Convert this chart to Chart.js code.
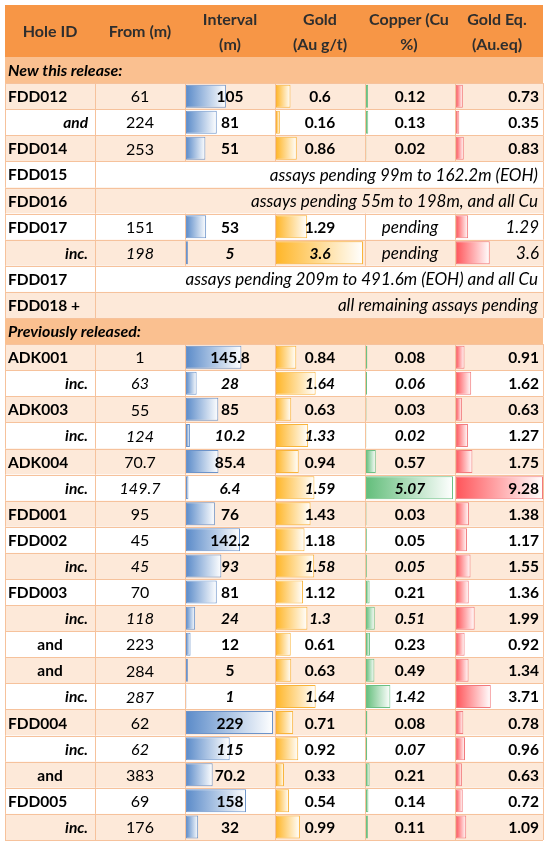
<!DOCTYPE html>
<html>
<head>
<meta charset="utf-8">
<script src="https://cdn.jsdelivr.net/npm/chart.js@4.4.1/dist/chart.umd.min.js"></script>
<style>
  html,body{margin:0;padding:0;background:#fff;}
  #wrap{width:550px;height:848px;position:relative;}
  canvas{display:block;}
</style>
</head>
<body>
<div id="wrap"><canvas id="c" width="550" height="848"></canvas></div>
<script>
// ---------- DATA ----------
const holeIds = ["New this release:","FDD012","and","FDD014","FDD015","FDD016","FDD017","inc.","FDD017","FDD018 +",
  "Previously released:","ADK001","inc.","ADK003","inc.","ADK004","inc.","FDD001","FDD002","inc.",
  "FDD003","inc.","and","and","inc.","FDD004","inc.","and","FDD005","inc."];
const fromM    = [null,61,224,253,null,null,151,198,null,null, null,1,63,55,124,70.7,149.7,95,45,45, 70,118,223,284,287,62,62,383,69,176];
const interval = [null,105,81,51,null,null,53,5,null,null, null,145.8,28,85,10.2,85.4,6.4,76,142.2,93, 81,24,12,5,1,229,115,70.2,158,32];
const gold     = [null,0.6,0.16,0.86,null,null,1.29,3.6,null,null, null,0.84,1.64,0.63,1.33,0.94,1.59,1.43,1.18,1.58, 1.12,1.3,0.61,0.63,1.64,0.71,0.92,0.33,0.54,0.99];
const copper   = [null,0.12,0.13,0.02,null,null,null,null,null,null, null,0.08,0.06,0.03,0.02,0.57,5.07,0.03,0.05,0.05, 0.21,0.51,0.23,0.49,1.42,0.08,0.07,0.21,0.14,0.11];
const goldEq   = [null,0.73,0.35,0.83,null,null,1.29,3.6,null,null, null,0.91,1.62,0.63,1.27,1.75,9.28,1.38,1.17,1.55, 1.36,1.99,0.92,1.34,3.71,0.78,0.96,0.63,0.72,1.09];
const copperText = {6:"pending",7:"pending"};
const notes = {4:"assays pending 99m to 162.2m (EOH)",5:"assays pending 55m to 198m, and all Cu",
  8:"assays pending 209m to 491.6m (EOH) and all Cu",9:"all remaining assays pending"};
const sectionRows = [0,10];
const headers = [["Hole ID"],["From (m)"],["Interval","(m)"],["Gold","(Au g/t)"],["Copper (Cu","%)"],["Gold Eq.","(Au.eq)"]];

// ---------- STYLE / LAYOUT ----------
const FONT = "Lato";
const FS = 15.5, FS_IT = 17, FS_HEAD = 16;
const TOP = 57, BOTTOM = 840, LEFT = 5, RIGHT = 543;
const colX = [5,95,185,275,365,455,543];
const italicRows = [7,12,14,16,19,21,24,26];
const goldUpright = [26];
const subRight = [2,7,12,14,16,19,21,24,26,29];   // italic, right-aligned labels
const subCenter = [22,23,27];                      // upright centered labels
const eqItalicNormal = [6,7];

const barCols = [
  {id:'x1', data:interval, start:186, end:273, color:'#5B8BC9', border:'#6C93C9'},
  {id:'x2', data:gold,     start:276, end:363, color:'#FFB628', border:'#F9B43A'},
  {id:'x3', data:copper,   start:366, end:453, color:'#63BE7B', border:'#6CC084'},
  {id:'x4', data:goldEq,   start:456, end:543, color:'#FF555A', border:'#F27A7D'}
];

function axisFor(bc){
  const M = Math.max(...bc.data.filter(v=>v!=null));
  const k = (bc.end - bc.start)/M;
  return {type:'linear', display:false, min:(LEFT-bc.start)/k, max:(RIGHT-bc.start)/k, grid:{display:false}};
}

const scales = {
  y:{type:'category', display:false, offset:true, grid:{display:false}}
};
barCols.forEach(bc=>{ scales[bc.id] = axisFor(bc); });

function gradFill(bc){
  return function(ctx){
    const chart = ctx.chart;
    const sc = chart.scales[bc.id];
    if(!sc || ctx.raw==null) return bc.color;
    const x0 = sc.getPixelForValue(0), x1 = sc.getPixelForValue(ctx.raw);
    const g = chart.ctx.createLinearGradient(x0,0,Math.max(x1,x0+1),0);
    g.addColorStop(0, bc.color);
    g.addColorStop(1, '#FFFFFF');
    return g;
  };
}

const datasets = barCols.map(bc=>({
  data: bc.data,
  xAxisID: bc.id,
  yAxisID: 'y',
  grouped: false,
  barPercentage: 0.88,
  categoryPercentage: 1,
  backgroundColor: gradFill(bc),
  borderColor: bc.border,
  borderWidth: 1,
  borderSkipped: false
}));

function txt(c, s, x, y, align, weight, italic, color, size){
  if(size===undefined) size = (italic && weight==='normal') ? FS_IT : FS;
  c.font = (italic?'italic ':'') + weight + ' ' + size + 'px ' + FONT;
  c.fillStyle = color || '#000';
  c.textAlign = align;
  c.textBaseline = 'middle';
  c.fillText(s, x, y+1);
}
function fmt(v){ return String(v); }

const tablePlugin = {
  id:'table',
  beforeDatasetsDraw(chart){
    const c = chart.ctx, ys = chart.scales.y;
    const n = holeIds.length;
    const band = (ys.bottom - ys.top)/n;
    c.save();
    // header
    c.fillStyle = '#F79646';
    c.fillRect(LEFT, 5, RIGHT-LEFT, ys.top-5);
    // row backgrounds: alternate within each section
    let k = 0;
    for(let i=0;i<n;i++){
      const yc = ys.getPixelForValue(i);
      const y0 = yc - band/2;
      let bg;
      if(sectionRows.includes(i)){ bg = '#FAC090'; k = 0; }
      else { bg = (k%2===0) ? '#FDE9D9' : '#FFFFFF'; k++; }
      c.fillStyle = bg;
      c.fillRect(LEFT, y0, RIGHT-LEFT, band);
    }
    // grid lines
    c.strokeStyle = '#F6C29C';
    c.lineWidth = 1;
    for(let i=0;i<n;i++){
      const yc = ys.getPixelForValue(i);
      const y0 = yc - band/2, y1 = yc + band/2;
      c.beginPath();
      c.moveTo(LEFT, Math.round(y1)+0.5); c.lineTo(RIGHT, Math.round(y1)+0.5);
      c.stroke();
      if(sectionRows.includes(i)) continue;
      const xs = (notes[i]!==undefined) ? [colX[0],colX[1],colX[6]] : colX;
      xs.forEach(x=>{
        c.beginPath();
        c.moveTo(Math.round(x)+0.5, y0); c.lineTo(Math.round(x)+0.5, y1);
        c.stroke();
      });
    }
    c.restore();
  },
  afterDatasetsDraw(chart){
    const c = chart.ctx, ys = chart.scales.y;
    c.save();
    const centers = [50,140,230,320,409,497];
    headers.forEach((h,j)=>{
      if(h.length===1) txt(c, h[0], centers[j], 31, 'center', 'bold', false, '#2E2E2E', FS_HEAD);
      else { txt(c, h[0], centers[j], 19, 'center', 'bold', false, '#2E2E2E', FS_HEAD);
             txt(c, h[1], centers[j], 44, 'center', 'bold', false, '#2E2E2E', FS_HEAD); }
    });
    for(let i=0;i<holeIds.length;i++){
      const y = ys.getPixelForValue(i);
      const it = italicRows.includes(i);
      if(sectionRows.includes(i)){ txt(c, holeIds[i], 8, y, 'left', 'bold', true, '#000', 16); continue; }
      if(subRight.includes(i)) txt(c, holeIds[i], 88, y, 'right', 'bold', true);
      else if(subCenter.includes(i)) txt(c, holeIds[i], 50, y, 'center', 'bold', false);
      else txt(c, holeIds[i], 8, y, 'left', 'bold', false);
      if(notes[i]!==undefined){ txt(c, notes[i], 538, y, 'right', 'normal', true); continue; }
      if(fromM[i]!=null) txt(c, fmt(fromM[i]), 140, y, 'center', 'normal', it, '#000', FS+0.5);
      if(interval[i]!=null) txt(c, fmt(interval[i]), 230, y, 'center', 'bold', it);
      if(gold[i]!=null) txt(c, fmt(gold[i]), 320, y, 'center', 'bold', it && !goldUpright.includes(i));
      if(copper[i]!=null) txt(c, fmt(copper[i]), 410, y, 'center', 'bold', it);
      else if(copperText[i]) txt(c, copperText[i], 410, y, 'center', 'normal', true);
      if(goldEq[i]!=null){
        if(eqItalicNormal.includes(i)) txt(c, fmt(goldEq[i]), 539, y, 'right', 'normal', true);
        else txt(c, fmt(goldEq[i]), 539, y, 'right', 'bold', false);
      }
    }
    c.restore();
  }
};

new Chart(document.getElementById('c'), {
  type:'bar',
  data:{ labels: holeIds.map((_,i)=>String(i)), datasets },
  options:{
    indexAxis:'y',
    responsive:false,
    animation:false,
    layout:{ padding:{ top:TOP, bottom:848-BOTTOM, left:LEFT, right:550-RIGHT } },
    plugins:{ legend:{display:false}, tooltip:{enabled:false}, title:{display:false} },
    scales
  },
  plugins:[tablePlugin]
});
</script>
</body>
</html>
